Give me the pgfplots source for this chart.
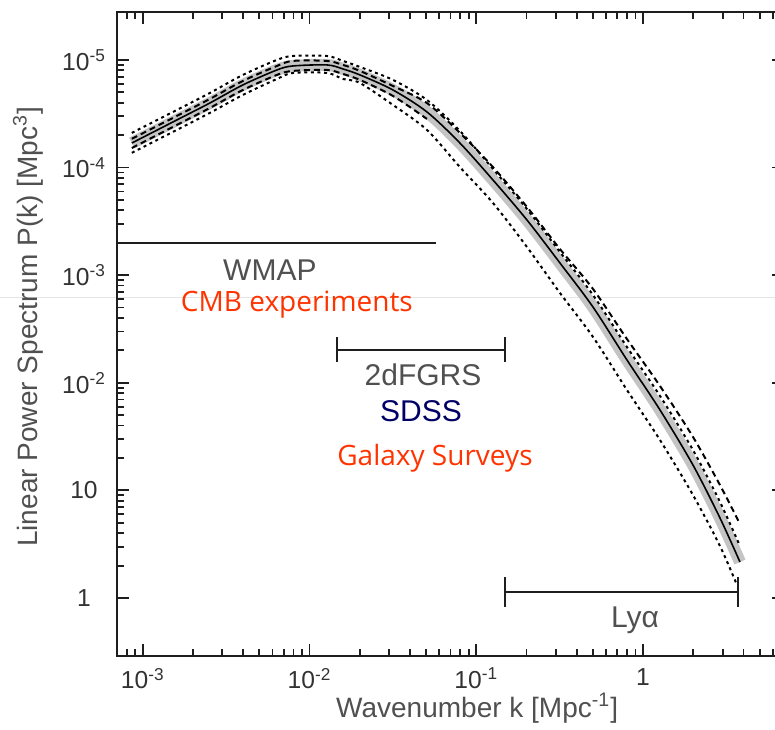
\documentclass[border=0pt]{standalone}
\usepackage{fontspec}
\setmainfont{Liberation Sans}
\newfontfamily\comic{Open Sans}
\usepackage{pgfplots}
\pgfplotsset{compat=1.18}
\definecolor{cmbred}{RGB}{255,51,0}
\definecolor{sdssblue}{RGB}{0,0,102}
\definecolor{txtgray}{RGB}{80,80,80}
\definecolor{tickgray}{RGB}{50,50,50}
\definecolor{bandgray}{RGB}{196,196,196}
\definecolor{axcol}{RGB}{30,30,30}
\begin{document}
\begin{tikzpicture}
\useasboundingbox (-58.5pt,-36.5pt) rectangle (329pt,328pt);
\draw[black!10, line width=0.5pt] (-58.5pt,179.5pt) -- (329pt,179.5pt);
\begin{axis}[
  at={(0pt,0pt)}, anchor=south west,
  scale only axis, width=333.5pt, height=322pt,
  xmode=log, ymode=log,
  xmin=7e-4, xmax=7, ymin=0.289, ymax=2.79e5,
  xtick={1e-3,1e-2,1e-1,1},
  xticklabels={10\textsuperscript{-3},10\textsuperscript{-2},10\textsuperscript{-1},1},
  minor xtick={7e-4,8e-4,9e-4,2e-3,3e-3,4e-3,5e-3,6e-3,7e-3,8e-3,9e-3,0.02,0.03,0.04,0.05,0.06,0.07,0.08,0.09,0.2,0.3,0.4,0.5,0.6,0.7,0.8,0.9,2,3,4,5,6,7},
  ytick={1,10,100,1000,10000,100000},
  yticklabels={1,10,10\textsuperscript{-2},10\textsuperscript{-3},10\textsuperscript{-4},10\textsuperscript{-5}},
  minor ytick={},
  tick align=inside,
  major tick length=6pt, minor tick length=3.5pt,
  every tick/.style={axcol, line width=0.9pt},
  axis line style={axcol, line width=1.1pt},
  ticklabel style={font=\fontsize{12.3}{14}\selectfont, text=tickgray},
  yticklabel style={anchor=center, xshift=-16.5pt},
  xticklabel style={anchor=north, yshift=-2.5pt},
  xlabel={Wavenumber k [Mpc\textsuperscript{-1}]},
  ylabel={Linear Power Spectrum P(k) [Mpc\textsuperscript{3}]},
  label style={font=\fontsize{14}{16}\selectfont, text=txtgray},
  xlabel style={at={(axis description cs:0.540,0)}, anchor=center, yshift=-26pt},
  ylabel style={at={(axis description cs:-0.1334,0.511)}, anchor=center},
]
% gray band
\addplot[bandgray, line width=6pt, smooth, tension=0.5] coordinates {
(8.59e-4,1.69e4) (1.600e-3,2.77e4) (2.523e-3,3.98e4) (3.981e-3,5.86e4) (6.368e-3,8.07e4) (7.943e-3,8.79e4) (1.271e-2,8.99e4) (1.585e-2,8.25e4) (2.004e-2,7.26e4) (3.162e-2,5.26e4) (5.054e-2,3.29e4) (7.972e-2,1.69e4) (0.1258,7670) (0.2011,3260) (0.3173,1298) (0.5005,506) (0.8003,163) (1.263,55.9) (1.992,17.2) (2.892,5.54) (3.811,2.16)};
% upper dashed
\addplot[black, line width=1pt, dash pattern=on 3pt off 2pt, smooth, tension=0.5] coordinates {
(8.59e-4,1.85e4) (1.600e-3,3.02e4) (2.523e-3,4.34e4) (3.981e-3,6.38e4) (6.368e-3,8.79e4) (7.943e-3,9.795e4) (1.271e-2,9.795e4) (1.585e-2,8.99e4) (2.004e-2,7.91e4) (3.162e-2,5.73e4) (5.054e-2,3.98e4) (7.972e-2,2.10e4) (0.1258,1.01e4) (0.2011,4305) (0.3173,1750) (0.5005,745) (0.8003,255) (1.263,93.4) (1.992,31.4) (2.892,11.2) (3.811,4.87)};
% upper dotted
\addplot[black, line width=1pt, dash pattern=on 1.5pt off 1.8pt, smooth, tension=0.5] coordinates {
(8.59e-4,2.10e4) (1.600e-3,3.43e4) (2.523e-3,4.93e4) (3.981e-3,7.26e4) (6.368e-3,1.0e5) (7.943e-3,1.089e5) (1.271e-2,1.089e5) (1.585e-2,9.795e4) (2.004e-2,8.61e4) (3.162e-2,6.52e4) (5.054e-2,4.25e4) (7.972e-2,2.19e4) (0.1258,9710) (0.2011,4125) (0.3173,1643) (0.5005,655) (0.8003,215) (1.263,75.4) (1.992,23.7) (2.892,7.80) (3.811,3.04)};
% lower dashed
\addplot[black, line width=1pt, dash pattern=on 3pt off 2pt, smooth, tension=0.5] coordinates {
(8.59e-4,1.52e4) (1.600e-3,2.49e4) (2.523e-3,3.58e4) (3.981e-3,5.26e4) (6.368e-3,7.26e4) (7.943e-3,7.91e4) (1.271e-2,8.07e4) (1.585e-2,7.41e4) (2.004e-2,6.52e4) (3.162e-2,4.63e4) (5.054e-2,2.83e4)};
% lower dotted
\addplot[black, line width=1pt, dash pattern=on 1.5pt off 1.8pt, smooth, tension=0.5] coordinates {
(8.59e-4,1.37e4) (1.600e-3,2.24e4) (2.523e-3,3.22e4) (3.981e-3,4.73e4) (6.368e-3,6.66e4) (7.943e-3,7.57e4) (1.271e-2,7.57e4) (1.585e-2,6.66e4) (2.004e-2,6.11e4) (3.162e-2,3.82e4) (5.054e-2,2.24e4) (7.972e-2,1.01e4) (0.1258,4690) (0.2011,1829) (0.3173,684) (0.5005,267) (0.8003,85.7) (1.263,29.4) (1.992,9.06) (2.892,3.04) (3.656,1.32)};
% central
\addplot[black, line width=0.8pt, smooth, tension=0.5] coordinates {
(8.59e-4,1.69e4) (1.600e-3,2.77e4) (2.523e-3,3.98e4) (3.981e-3,5.86e4) (6.368e-3,8.07e4) (7.943e-3,8.79e4) (1.271e-2,8.99e4) (1.585e-2,8.25e4) (2.004e-2,7.26e4) (3.162e-2,5.26e4) (5.054e-2,3.29e4) (7.972e-2,1.69e4) (0.1258,7670) (0.2011,3260) (0.3173,1298) (0.5005,506) (0.8003,163) (1.263,55.9) (1.992,17.2) (2.892,5.54) (3.811,2.16)};
% range bars
\addplot[axcol, line width=1pt, mark=|, mark size=6.5pt, mark indices={2}, mark options={solid, line width=1pt}] coordinates {(5e-4,1995) (0.0573,1995)};
\addplot[axcol, line width=1pt, mark=|, mark size=6.25pt, mark options={solid, line width=1pt}] coordinates {(0.0146,202) (0.1486,202)};
\addplot[axcol, line width=1pt, mark=|, mark size=7.5pt, mark options={solid, line width=1pt}] coordinates {(0.1486,1.14) (3.71,1.14)};
% texts
\node[text=txtgray, font=\fontsize{15}{18}\selectfont] at (axis cs:5.78e-3,1117) {WMAP};
\node[text=cmbred, font=\comic\fontsize{14}{16}\selectfont] at (axis cs:8.39e-3,528) {CMB experiments};
\node[text=txtgray, font=\fontsize{15}{18}\selectfont] at (axis cs:0.0479,118) {2dFGRS};
\node[text=sdssblue, font=\fontsize{15}{18}\selectfont] at (axis cs:0.0466,54.7) {SDSS};
\node[text=cmbred, font=\comic\fontsize{14}{16}\selectfont] at (axis cs:0.0565,20) {Galaxy Surveys};
\node[text=txtgray, font=\fontsize{15}{18}\selectfont] at (axis cs:0.894,0.625) {Lyα};
\end{axis}
\end{tikzpicture}
\end{document}
